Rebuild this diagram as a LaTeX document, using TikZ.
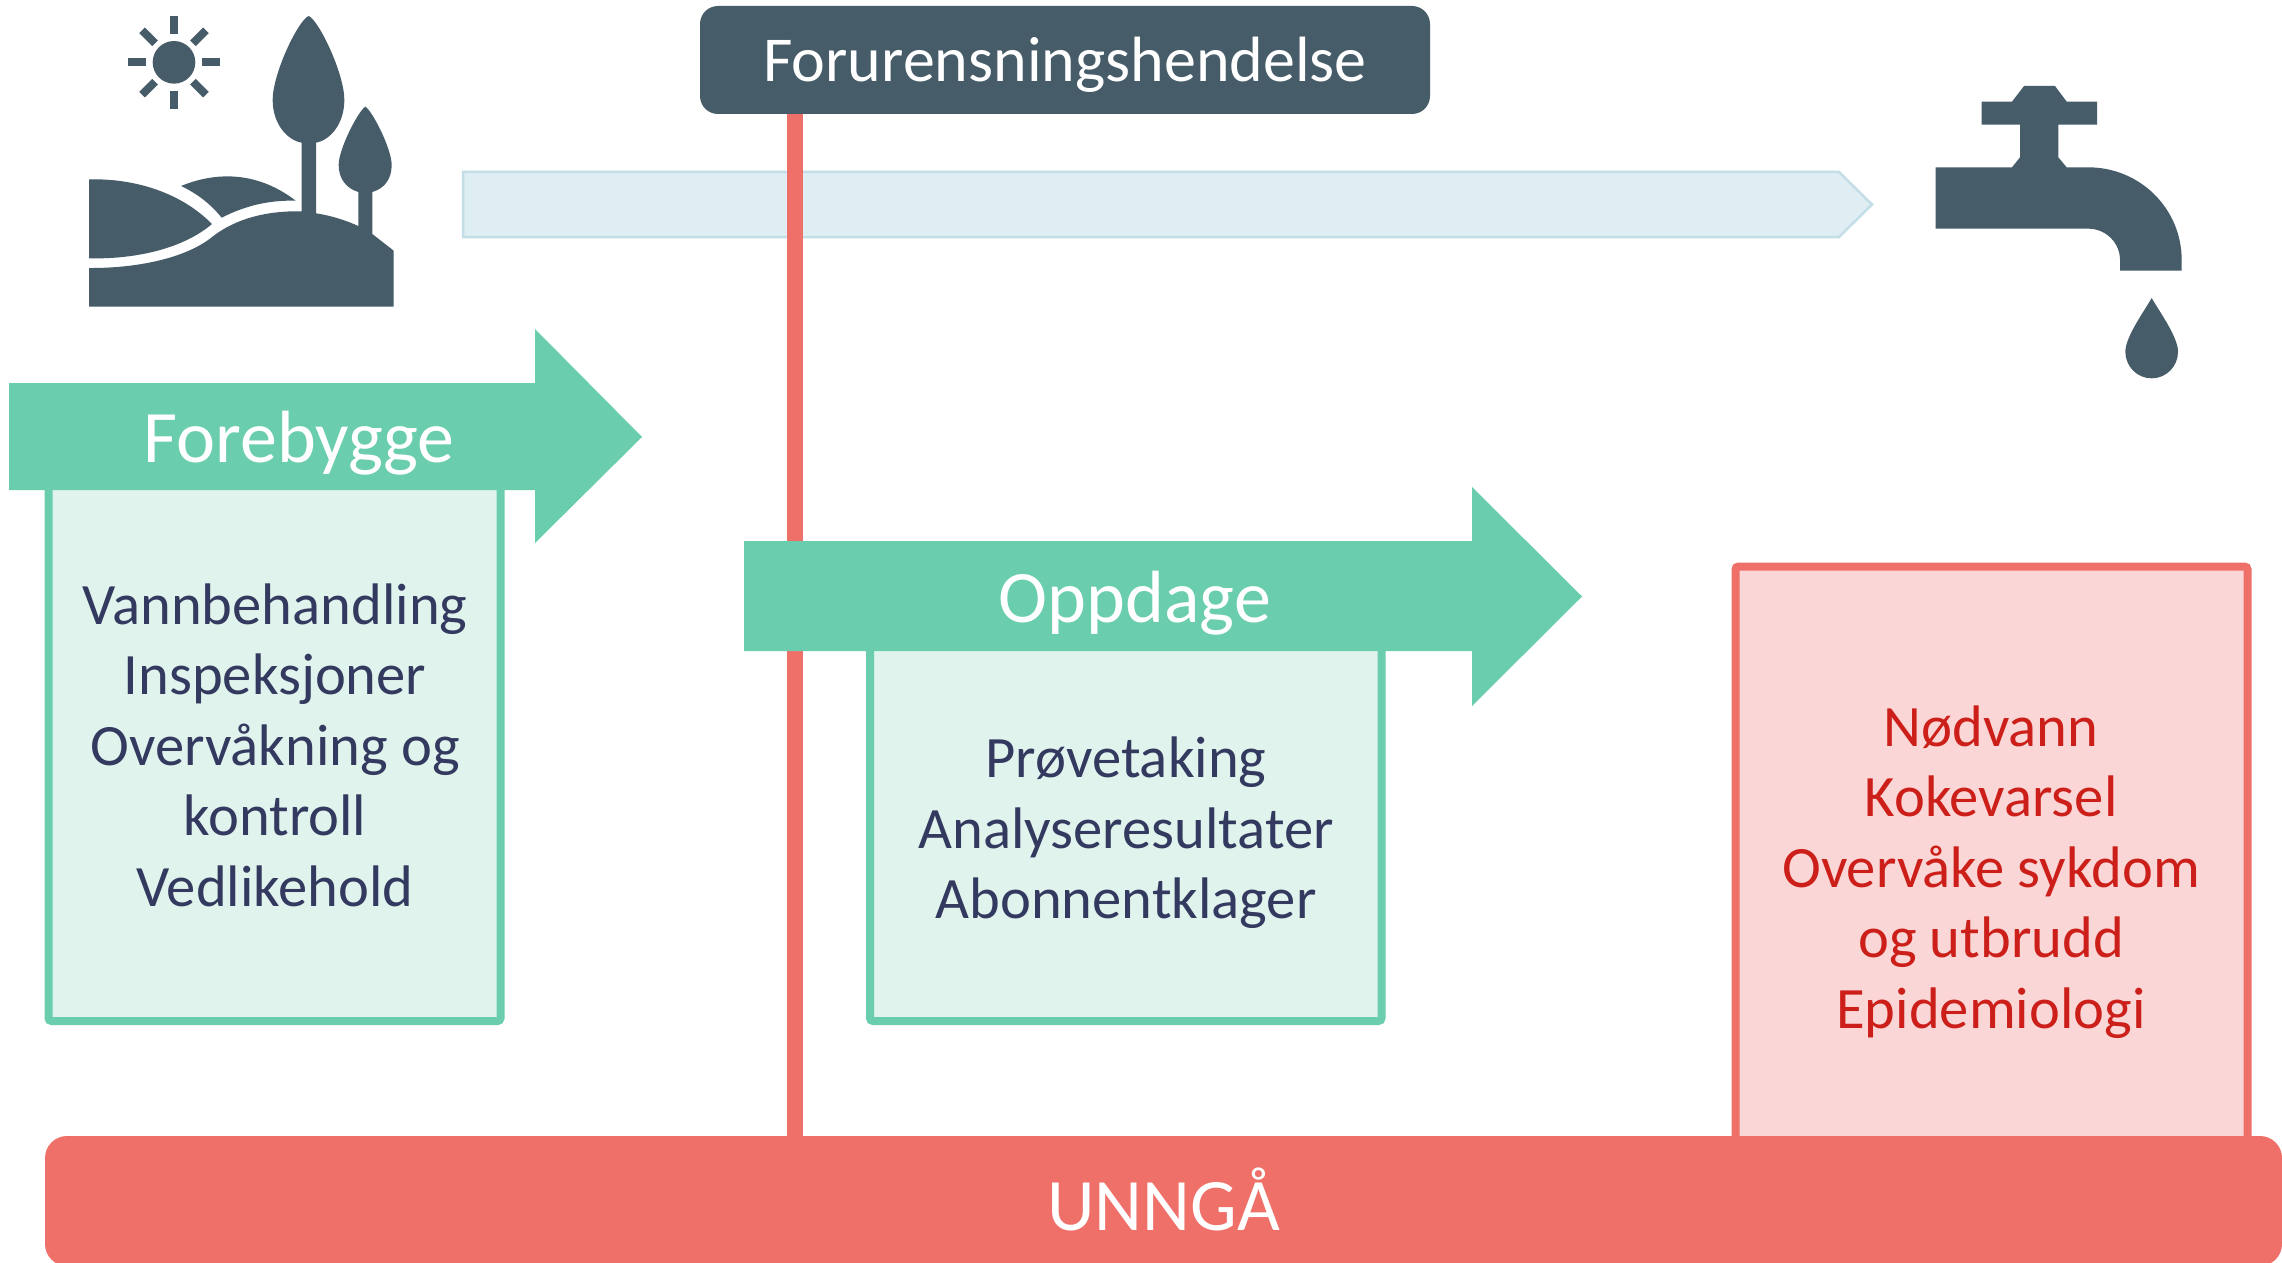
\documentclass[tikz,border=0pt]{standalone}
\usepackage{fontspec}
\setmainfont{Carlito}
\definecolor{slate}{HTML}{465C69}
\definecolor{grn}{HTML}{69CDAE}
\definecolor{lgrn}{HTML}{E0F4ED}
\definecolor{rd}{HTML}{EF6F69}
\definecolor{lrd}{HTML}{FAD7D6}
\definecolor{rdtxt}{HTML}{CC1F1A}
\definecolor{navy}{HTML}{33395F}
\definecolor{lblue}{HTML}{DFEEF3}
\definecolor{bblue}{HTML}{C3DEE7}
\tikzset{
  arrowshape/.style={fill=grn,draw=none},
  greenbox/.style={draw=grn,fill=lgrn,line width=4pt,rounded corners=1.5pt},
  redbox/.style={draw=rd,fill=lrd,line width=4pt,rounded corners=1.5pt},
  icon/.style={fill=slate,draw=none},
  ray/.style={draw=slate,line width=4pt},
  arrowtext/.style={text=white,font=\fontsize{37}{37}\selectfont,anchor=base,inner sep=0pt},
  bodytext/.style={font=\fontsize{29.3}{35.25}\selectfont,align=center,inner sep=0pt},
  headtext/.style={fill=slate,rounded corners=9pt,text=white,minimum width=365pt,minimum height=54pt,inner sep=0pt,text height=22pt,text depth=0pt,font=\fontsize{32}{32}\selectfont},
  bartext/.style={fill=rd,rounded corners=11pt,text=white,minimum width=1118.5pt,minimum height=65pt,inner sep=0pt,text height=29pt,text depth=0pt,font=\fontsize{37}{37}\selectfont},
}
\begin{document}
\begin{tikzpicture}[x=0.5pt,y=-0.5pt]
\clip (0,0) rectangle (2282,1263);
\fill[white] (0,0) rectangle (2282,1263);
% flow band
\draw[fill=lblue,draw=bblue,line width=1.25pt] (463,172) -- (1839,172) -- (1872,204.5) -- (1839,237) -- (463,237) -- cycle;
% event line
\coordinate (lt) at (795,100);
\coordinate (lb) at (795,1150);
\draw[rd,line width=8pt] (lt) -- (lb);
% boxes
\draw[greenbox] (48.5,470) rectangle (500.5,1021);
\draw[greenbox] (870,640) rectangle (1381.5,1021);
\draw[redbox] (1735.5,566.5) rectangle (2247.5,1150);
% arrows
\fill[arrowshape] (9,383) -- (535,383) -- (535,329) -- (642,437) -- (535,543) -- (535,490) -- (9,490) -- cycle;
\fill[arrowshape] (744,541) -- (1472,541) -- (1472,487) -- (1582,596.5) -- (1472,706) -- (1472,651) -- (744,651) -- cycle;
% header and bar
\node[headtext] (hdr) at (1065,60) {Forurensningshendelse};
\node[bartext] (bar) at (1163.5,1201) {UNNGÅ};
% labels
\node[arrowtext] (fore) at (299,462) {Forebygge};
\node[arrowtext] (opp) at (1135,622) {Oppdage};
\node[bodytext,text=navy] (t1) at (275,745) {Vannbehandling\\Inspeksjoner\\Overvåkning og\\kontroll\\Vedlikehold};
\node[bodytext,text=navy] (t2) at (1126,833) {Prøvetaking\\Analyseresultater\\Abonnentklager};
\node[bodytext,text=rdtxt] (t3) at (1991,872) {Nødvann\\Kokevarsel\\Overvåke sykdom\\og utbrudd\\Epidemiologi};
% landscape icon
\begin{scope}[x=0.16667pt,y=-0.16667pt,xshift=30pt]
\fill[icon] (342,187) circle[radius=64];
\draw[ray] (342,48) -- (342,102);
\draw[ray] (342,272) -- (342,326);
\draw[ray] (204,187) -- (258,187);
\draw[ray] (426,187) -- (480,187);
\draw[ray] (246,91) -- (285,130);
\draw[ray] (438,91) -- (399,130);
\draw[ray] (246,284) -- (285,245);
\draw[ray] (438,284) -- (399,245);
\fill[icon] (87,920) -- (1001,920) -- (1001,752) -- (937,702) -- (937,576)
  .. controls (975,565) and (995,535) .. (995,495)
  .. controls (995,445) and (935,330) .. (916,320)
  .. controls (897,330) and (836,445) .. (836,495)
  .. controls (836,535) and (858,565) .. (895,576)
  -- (895,678) .. controls (855,660) and (810,646) .. (768,640)
  -- (768,428) .. controls (812,420) and (853,370) .. (853,300)
  .. controls (853,220) and (776,60) .. (746,48)
  .. controls (715,60) and (638,220) .. (638,300)
  .. controls (638,370) and (680,420) .. (725,428)
  -- (725,634) .. controls (620,632) and (530,655) .. (460,708)
  .. controls (380,775) and (230,805) .. (87,804) -- cycle;
\fill[icon] (87,538) .. controls (230,535) and (365,580) .. (456,672)
  .. controls (370,745) and (230,778) .. (87,775) -- cycle;
\fill[icon] (363,558) .. controls (480,510) and (600,520) .. (707,602)
  .. controls (620,600) and (550,620) .. (485,653)
  .. controls (450,610) and (410,580) .. (363,558) -- cycle;
\end{scope}
% tap icon
\begin{scope}[x=0.16667pt,y=-0.16667pt,xshift=950pt,yshift=-30pt]
\fill[icon] (107,322) -- (336,322) -- (360,292) -- (360,194) -- (245,194) -- (245,125) -- (336,125) -- (372,78) -- (465,78) -- (500,125) -- (591,125) -- (591,194) -- (475,194) -- (475,292) -- (500,322) -- (565,322)
  .. controls (720,322) and (845,446) .. (845,600) -- (845,632) -- (660,632) -- (660,600)
  .. controls (660,548) and (617,506) .. (565,506) -- (107,506) -- cycle;
\fill[icon] (755,714) .. controls (735,750) and (676,830) .. (676,875)
  .. controls (676,920) and (712,955) .. (755,955)
  .. controls (798,955) and (834,920) .. (834,875)
  .. controls (834,830) and (775,750) .. (755,714) -- cycle;
\end{scope}
\end{tikzpicture}
\end{document}
